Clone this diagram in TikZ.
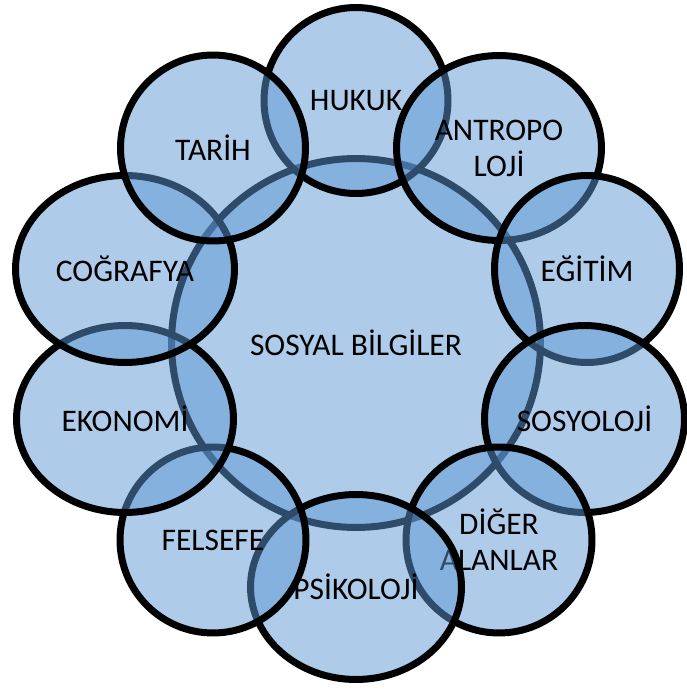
\documentclass[tikz,border=0pt]{standalone}
\usepackage{fontspec}
\setmainfont{Carlito}
\usepackage{tikz}
\usetikzlibrary{shapes.geometric}

\definecolor{bubble_blue}{RGB}{93,151,213}
\tikzset{
  bubble/.style 2 args={ellipse, draw=black, line width=0.14cm, fill=bubble_blue,
    fill opacity=0.5, text opacity=1, inner sep=0pt,
    minimum width=#1cm, minimum height=#2cm, align=center,
    font=\fontsize{17.9}{20.5}\selectfont}
}

\begin{document}
\begin{tikzpicture}[x=0.02cm, y=-0.02cm]
\useasboundingbox (0, 0) rectangle (686, 689);
\node[bubble={7.38}{7.38}] (sosyal_bilgiler) at (356, 343) {SOSYAL BİLGİLER};
\node[bubble={3.68}{3.72}] (hukuk) at (356, 100.5) {HUKUK};
\node[bubble={4.10}{3.70}] (antropoloji) at (499, 148) {ANTROPO\\LOJİ};
\node[bubble={3.70}{3.74}] (egitim) at (587, 269) {EĞİTİM};
\node[bubble={4.00}{3.74}] (sosyoloji) at (584.5, 419) {SOSYOLOJİ};
\node[bubble={3.72}{3.72}] (diger) at (499, 540) {DİĞER\\ALANLAR};
\node[bubble={4.22}{3.70}] (psikoloji) at (356, 587) {PSİKOLOJİ};
\node[bubble={3.72}{3.72}] (felsefe) at (213, 540) {FELSEFE};
\node[bubble={4.34}{3.74}] (ekonomi) at (125, 419) {EKONOMİ};
\node[bubble={4.38}{3.74}] (cografya) at (125, 269) {COĞRAFYA};
\node[bubble={3.70}{3.72}] (tarih) at (213, 148) {TARİH};
\end{tikzpicture}
\end{document}
